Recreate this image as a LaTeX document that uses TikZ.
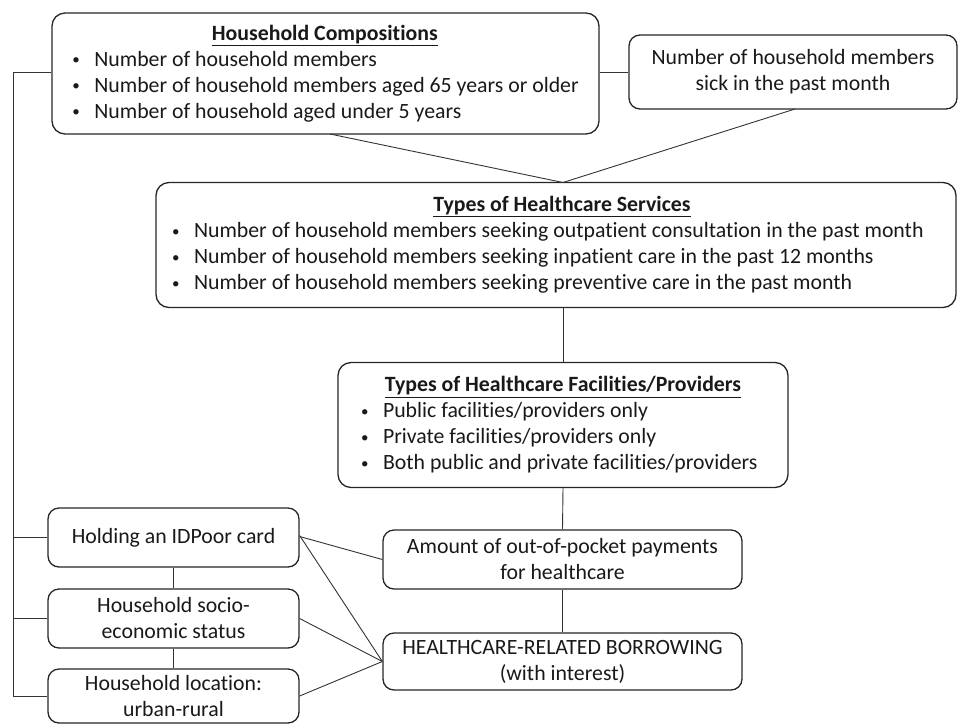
\documentclass[tikz,border=0pt]{standalone}
\usepackage{fontspec}
\setmainfont{Carlito}[Ligatures={NoCommon}]
\newcommand{\ttl}[3][0pt]{\makebox[#2][c]{\hspace{#1}\underline{\textbf{#3}}}}
\newcommand{\bul}{\makebox[22pt][l]{\raisebox{1.5pt}{\fontsize{15pt}{15pt}\selectfont\textbullet}}}
\begin{document}
\begin{tikzpicture}[x=1pt,y=-1pt,
  box/.style={draw=black!85, line width=1.3pt, rounded corners=11pt, inner sep=0pt,
    font=\fontsize{21.8pt}{26pt}\selectfont, text=black!90},
  listbox/.style={box, align=left, rounded corners=13pt},
  plainbox/.style={box, align=center},
  conn/.style={draw=black!80, line width=0.9pt}]
\useasboundingbox (0,0) rectangle (959,724);

% top row
\node[listbox, minimum width=547pt, minimum height=121pt] (hc) at (325.5,73.5)
  {\ttl{505pt}{Household Compositions}\\
   \bul Number of household members\\
   \bul Number of household members aged 65 years or older\\
   \bul Number of household aged under 5 years};
\node[plainbox, minimum width=328pt, minimum height=74pt] (sick) at (793,72)
  {Number of household members\\sick in the past month};

% services
\node[listbox, minimum width=800pt, minimum height=125pt] (hcs) at (556,245)
  {\ttl[12pt]{768pt}{Types of Healthcare Services}\\
   \bul Number of household members seeking outpatient consultation in the past month\\
   \bul Number of household members seeking inpatient care in the past 12 months\\
   \bul Number of household members seeking preventive care in the past month};

% facilities
\node[listbox, minimum width=450pt, minimum height=125pt] (fac) at (563,425)
  {\ttl{404pt}{Types of Healthcare Facilities/Providers}\\
   \bul Public facilities/providers only\\
   \bul Private facilities/providers only\\
   \bul Both public and private facilities/providers};

% outcomes
\node[plainbox, minimum width=359pt, minimum height=59pt] (oop) at (562.5,559.5)
  {Amount of out-of-pocket payments\\for healthcare};
\node[plainbox, minimum width=359pt, minimum height=57pt] (bor) at (562.5,661.5)
  {HEALTHCARE-RELATED BORROWING\\(with interest)};

% left column
\node[plainbox, minimum width=251pt, minimum height=59pt] (idp) at (173.5,537.5)
  {Holding an IDPoor card};
\node[plainbox, minimum width=251pt, minimum height=59pt] (ses) at (173.5,618.5)
  {Household socio-\\economic status};
\node[plainbox, minimum width=251pt, minimum height=54pt] (loc) at (173.5,696)
  {Household location:\\urban-rural};

% coordinates
\coordinate (lt) at (13.5,72.5);
\coordinate (apex) at (563,182.5);
\coordinate (hcb) at (330,134);
\coordinate (sickb) at (795,109);

% connectors
\draw[conn] (hc.west |- lt) -- (lt) |- (loc.west);
\draw[conn] (idp.west) -- (idp.west -| lt);
\draw[conn] (ses.west) -- (ses.west -| lt);
\draw[conn] (hc.east |- sick.west) -- (sick.west);
\draw[conn] (hcb) -- (apex) -- (sickb);
\draw[conn] (hcs.south -| fac.north) -- (fac.north);
\draw[conn] (fac.south) -- (oop.north);
\draw[conn] (oop.south) -- (bor.north);
\draw[conn] (idp.south) -- (ses.north);
\draw[conn] (ses.south) -- (loc.north);
\draw[conn] ([yshift=1pt]idp.east) -- (oop.west);
\draw[conn] ([yshift=2pt]idp.east) -- (bor.west);
\draw[conn] (ses.east) -- (bor.west);
\draw[conn] (loc.east) -- (bor.west);
\end{tikzpicture}
\end{document}
